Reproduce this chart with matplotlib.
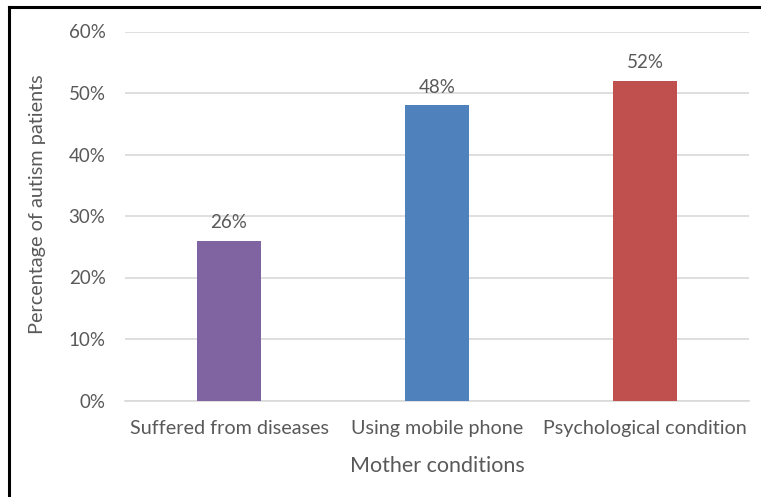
import numpy as np
import matplotlib.pyplot as plt
from matplotlib.lines import Line2D
from matplotlib.ticker import FuncFormatter

# Share of autism patients by mother condition
conditions = ["Suffered from diseases", "Using mobile phone", "Psychological condition"]
percent = [26, 48, 52]
bar_colors = ["#8064A2", "#4F81BD", "#C0504D"]
yticks = [0, 10, 20, 30, 40, 50, 60]

plt.rcParams['font.family'] = ['Lato', 'DejaVu Sans']
text_grey = '#595959'

fig = plt.figure(figsize=(7.61, 4.97), dpi=100)
ax = fig.add_axes([125/761, 1 - 400.5/497, (749-125)/761, (400.5-31.5)/497])

x = np.arange(len(conditions))
bars = ax.bar(x, percent, width=0.31, color=bar_colors, zorder=3)

# value labels above each bar
for b, v in zip(bars, percent):
    ax.annotate('%d%%' % v, (b.get_x() + b.get_width()/2, v),
                xytext=(0, 7), textcoords='offset points',
                ha='center', va='bottom', fontsize=13.5, color=text_grey)

ax.set_xlim(-0.5, len(conditions) - 0.5)
ax.set_ylim(0, 60)
ax.set_yticks(yticks)
ax.yaxis.set_major_formatter(FuncFormatter(lambda v, p: '%d%%' % v))
ax.set_xticks(x)
ax.set_xticklabels(conditions)
ax.grid(axis='y', color='#D9D9D9', linewidth=1.2, zorder=0)
ax.tick_params(axis='both', length=0, labelcolor=text_grey)
ax.tick_params(axis='y', pad=14, labelsize=13.5)
ax.tick_params(axis='x', pad=14, labelsize=14.2)
for side in ['top', 'right', 'left']:
    ax.spines[side].set_visible(False)
ax.spines['bottom'].set_color('#D9D9D9')
ax.spines['bottom'].set_linewidth(1.2)

ax.set_xlabel('Mother conditions', fontsize=15.5, color=text_grey, labelpad=14)
ax.set_ylabel('Percentage of autism patients', fontsize=14.3, color=text_grey)
ax.yaxis.set_label_coords(-0.127, 0.532)

# outer frame (left and top edges)
fig.add_artist(Line2D([9/761, 9/761], [0, 1 - 7/497], color='black', linewidth=2.2))
fig.add_artist(Line2D([9/761, 1], [1 - 7/497, 1 - 7/497], color='black', linewidth=2.2))

fig.savefig('out.png', dpi=100)
